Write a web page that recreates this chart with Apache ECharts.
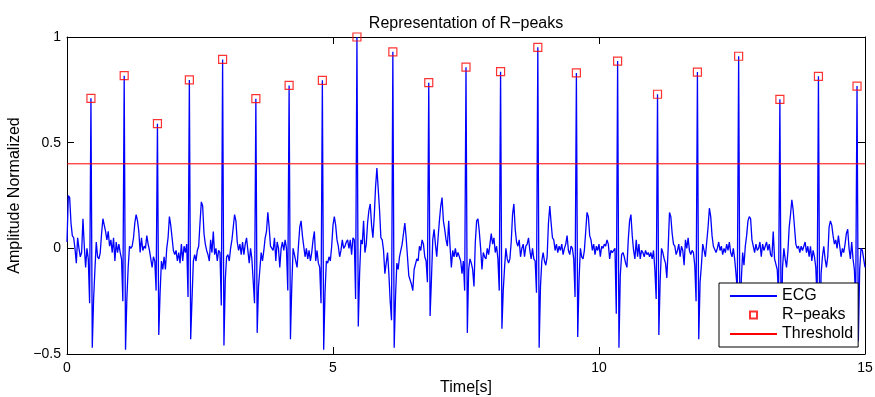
<!DOCTYPE html>
<html>
<head>
<meta charset="utf-8">
<title>Representation of R-peaks</title>
<script src="https://cdn.jsdelivr.net/npm/echarts@6/dist/echarts.min.js"></script>
<style>
  html, body { margin: 0; padding: 0; background: #fff; }
  #chart-container { width: 875px; height: 397px; }
</style>
</head>
<body>
<div id="chart-container"></div>
<script>
// ECG 信号, 每个采样间隔 0.025 s
var sampleStep = 0.025;
var ecgValues = [
  0.03, 0.25, 0.24, 0.12, 0.06, 0.05, 0.0, -0.07, 0.05, 0.0, -0.04, -0.02, 0.14, 0.01, -0.09, 0.0, -0.05, -0.26, 0.71, -0.47, // 0.0 s
  -0.24, -0.1, 0.03, -0.04, -0.05, -0.02, 0.07, 0.14, 0.11, 0.08, 0.04, 0.08, 0.01, 0.04, -0.02, 0.05, -0.06, 0.03, -0.02, 0.02,
  -0.02, -0.05, -0.25, 0.817, -0.48, -0.24, -0.09, 0.01, 0.0, 0.01, 0.05, 0.12, 0.16, 0.13, 0.08, -0.02, 0.05, -0.01, 0.01, 0.0, // 1.0 s
  0.06, 0.02, -0.01, -0.05, -0.09, -0.04, -0.06, -0.2, 0.59, -0.41, -0.21, -0.06, -0.1, -0.04, -0.1, 0.0, 0.05, 0.15, 0.11, 0.05,
  -0.01, -0.03, -0.01, -0.06, -0.02, -0.07, 0.02, -0.06, 0.01, -0.02, 0.02, -0.23, 0.797, -0.43, -0.24, -0.06, -0.03, -0.06, -0.01, 0.01, // 2.0 s
  0.12, 0.22, 0.2, 0.07, 0.02, -0.01, -0.03, -0.06, 0.04, -0.02, 0.08, -0.03, 0.0, -0.06, -0.01, -0.02, -0.27, 0.894, -0.46, -0.15,
  -0.04, -0.03, -0.06, 0.0, 0.04, 0.1, 0.16, 0.13, 0.03, -0.01, 0.02, -0.03, 0.03, -0.03, 0.02, 0.05, -0.01, -0.07, 0.0, -0.05, // 3.0 s
  -0.05, -0.26, 0.708, -0.4, -0.18, -0.1, -0.02, -0.06, -0.01, 0.05, 0.08, 0.17, 0.1, 0.01, 0.01, -0.01, 0.05, -0.06, 0.03, 0.0,
  -0.09, 0.0, 0.03, -0.01, 0.04, 0.0, -0.2, 0.771, -0.43, -0.18, 0.0, -0.03, -0.06, -0.09, 0.01, 0.1, 0.13, 0.06, 0.01, -0.04, // 4.0 s
  0.0, -0.05, -0.01, -0.06, -0.02, 0.04, 0.08, -0.06, -0.01, -0.07, -0.09, -0.26, 0.795, -0.48, -0.21, -0.06, -0.07, -0.04, -0.06, 0.01,
  0.11, 0.15, 0.11, 0.04, 0.01, -0.04, -0.01, 0.04, 0.0, 0.01, 0.03, 0.04, 0.0, 0.04, -0.03, 0.05, 0.04, -0.24, 1.0, -0.37, // 5.0 s
  -0.12, 0.04, 0.02, 0.13, -0.02, 0.02, 0.12, 0.18, 0.21, 0.11, 0.05, 0.15, 0.29, 0.38, 0.28, 0.18, 0.05, 0.04, -0.01, -0.12,
  -0.07, -0.02, -0.12, -0.25, -0.34, 0.93, -0.47, -0.23, -0.07, -0.1, -0.04, -0.01, 0.02, 0.07, 0.12, 0.05, -0.04, -0.13, -0.15, -0.17, // 6.0 s
  -0.2, -0.1, -0.1, -0.05, -0.06, 0.01, -0.01, 0.04, 0.02, -0.04, -0.06, -0.16, 0.784, -0.32, -0.15, 0.04, 0.09, 0.02, -0.04, 0.05,
  0.13, 0.2, 0.24, 0.13, 0.09, 0.04, 0.01, 0.13, 0.01, -0.09, -0.01, -0.04, 0.0, -0.04, -0.02, -0.04, -0.06, -0.12, -0.06, -0.2, // 7.0 s
  0.857, -0.4, -0.1, -0.05, -0.07, -0.1, -0.18, 0.03, 0.13, 0.14, 0.08, 0.0, -0.1, -0.02, -0.04, -0.05, 0.0, -0.03, 0.02, 0.07,
  0.02, 0.05, -0.02, 0.01, -0.05, -0.2, 0.836, -0.38, -0.2, -0.09, 0.0, -0.05, -0.07, -0.05, 0.03, 0.16, 0.21, 0.09, 0.03, 0.01, // 8.0 s
  0.04, -0.04, 0.0, 0.02, -0.04, 0.01, 0.02, 0.05, -0.01, -0.05, 0.0, -0.05, -0.06, -0.21, 0.951, -0.47, -0.18, -0.06, -0.02, -0.06,
  -0.08, -0.04, 0.12, 0.2, 0.12, 0.05, 0.04, -0.01, 0.02, -0.02, 0.01, -0.01, 0.02, -0.03, 0.0, 0.02, 0.06, -0.01, -0.03, 0.01, // 9.0 s
  0.0, -0.05, -0.23, 0.83, -0.42, -0.15, 0.0, -0.04, -0.05, -0.01, 0.08, 0.17, 0.15, 0.06, 0.04, -0.01, 0.02, -0.03, 0.01, -0.01,
  0.02, -0.04, 0.01, 0.0, 0.02, 0.01, 0.04, 0.02, -0.05, -0.01, -0.02, -0.01, 0.0, -0.31, 0.886, -0.47, -0.13, -0.03, -0.02, -0.04, // 10.0 s
  -0.07, -0.09, 0.04, 0.13, 0.16, 0.06, -0.01, -0.05, 0.04, -0.04, 0.02, -0.05, -0.01, -0.02, -0.04, -0.01, -0.03, -0.02, -0.04, -0.02,
  -0.05, -0.01, -0.1, -0.24, 0.729, -0.41, -0.15, 0.0, -0.02, -0.05, -0.07, -0.14, 0.0, 0.17, 0.15, 0.07, 0.02, 0.01, -0.03, -0.01, // 11.0 s
  0.02, -0.04, 0.01, -0.01, -0.08, 0.04, 0.0, 0.05, -0.01, -0.03, -0.01, -0.02, -0.08, -0.25, 0.834, -0.43, -0.16, -0.08, 0.02, -0.01,
  -0.04, 0.03, 0.1, 0.19, 0.15, 0.06, 0.01, 0.01, -0.02, 0.0, 0.03, -0.01, 0.01, -0.03, 0.0, -0.02, 0.02, -0.01, 0.03, -0.02, // 12.0 s
  -0.04, 0.0, -0.05, -0.12, -0.2, 0.909, -0.45, -0.15, -0.02, -0.08, 0.01, 0.06, 0.13, 0.15, 0.14, 0.04, 0.01, -0.02, 0.02, -0.01,
  0.0, 0.03, -0.04, 0.02, -0.01, 0.01, 0.03, -0.01, 0.02, -0.03, -0.04, 0.08, -0.05, -0.05, -0.1, -0.22, 0.705, -0.44, -0.09, 0.0, // 13.0 s
  -0.05, -0.09, -0.02, 0.1, 0.16, 0.23, 0.18, 0.1, 0.02, 0.0, 0.01, -0.02, 0.01, -0.01, 0.01, 0.03, -0.02, 0.01, -0.04, 0.01,
  -0.06, -0.01, -0.04, -0.09, -0.25, 0.814, -0.45, -0.12, -0.04, 0.01, -0.05, -0.09, -0.04, 0.1, 0.13, 0.11, 0.06, 0.02, 0.04, 0.0, // 14.0 s
  0.06, 0.01, -0.04, 0.0, -0.02, 0.02, 0.07, 0.09, 0.0, -0.05, 0.03, -0.05, -0.1, -0.25, 0.768, -0.44, -0.1, 0.0, -0.01, -0.05,
  -0.09 // 15.0 s
];

// 检测到的 R 波峰
var rPeakTimes = [0.45, 1.075, 1.7, 2.3, 2.925, 3.55, 4.175, 4.8, 5.45, 6.125, 6.8,
  7.5, 8.15, 8.85, 9.575, 10.35, 11.1, 11.85, 12.625, 13.4, 14.125, 14.85];
var rPeakValues = [0.71, 0.817, 0.59, 0.797, 0.894, 0.708, 0.771, 0.795, 1.0, 0.93, 0.784,
  0.857, 0.836, 0.951, 0.83, 0.886, 0.729, 0.834, 0.909, 0.705, 0.814, 0.768];

// 阈值
var thresholdLevel = 0.4;

// 坐标轴刻度
var xTicks = [0, 5, 10, 15];
var yTicks = [-0.5, 0, 0.5, 1];
var yTickLabels = ['\u22120.5', '0', '0.5', '1'];

var fontName = '"Liberation Sans", Arial, Helvetica, sans-serif';

var dom = document.getElementById('chart-container');
var myChart = echarts.init(dom, null, { renderer: 'canvas' });

var ecgData = ecgValues.map(function (v, i) { return [i * sampleStep, v]; });
var peakData = rPeakTimes.map(function (t, k) { return [t, rPeakValues[k]]; });
var xMin = xTicks[0], xMax = xTicks[xTicks.length - 1];
var thresholdData = [[xMin, thresholdLevel], [xMax, thresholdLevel]];

function axisBase(extra) {
  var base = {
    type: 'value',
    axisLine: { show: true, onZero: false, lineStyle: { color: '#000', width: 1 } },
    axisTick: { show: true, inside: true, length: 7, lineStyle: { color: '#000', width: 1 } },
    splitLine: { show: false },
    nameTextStyle: { color: '#000', fontSize: 16, fontFamily: fontName }
  };
  return Object.assign(base, extra);
}

// 图例里线条不显示中间的圆点
var hiddenDot = { color: 'rgba(0,0,0,0)', borderWidth: 0, opacity: 0 };

var option = {
  animation: false,
  backgroundColor: '#fff',
  title: {
    text: 'Representation of R\u2212peaks',
    left: 461,
    top: 11,
    textAlign: 'center',
    textStyle: { color: '#000', fontSize: 16, fontWeight: 'normal', fontFamily: fontName }
  },
  grid: {
    left: 67, right: 10, top: 37, bottom: 43,
    containLabel: false,
    outerBoundsMode: 'none'
  },
  legend: {
    orient: 'vertical',
    left: 719,
    top: 283,
    itemWidth: 47,
    itemHeight: 7,
    itemGap: 3,
    padding: [5, 5, 5, 10],
    backgroundColor: '#fff',
    borderColor: '#000',
    borderWidth: 1,
    selectedMode: false,
    textStyle: { color: '#000', fontSize: 16, fontFamily: fontName },
    data: [
      { name: 'ECG', itemStyle: hiddenDot },
      { name: 'R\u2212peaks', icon: 'path://M0,0L10,0L10,10L0,10Z' },
      { name: 'Threshold', itemStyle: hiddenDot }
    ]
  },
  xAxis: [
    axisBase({
      position: 'bottom', min: xMin, max: xMax, interval: 5,
      name: 'Time[s]', nameLocation: 'middle', nameGap: 26,
      axisLabel: { color: '#000', fontSize: 14, margin: 7, fontFamily: fontName }
    }),
    axisBase({
      position: 'top', min: xMin, max: xMax, interval: 5,
      axisLabel: { show: false }
    })
  ],
  yAxis: [
    axisBase({
      position: 'left', min: yTicks[0], max: yTicks[yTicks.length - 1], interval: 0.5,
      name: 'Amplitude Normalized', nameLocation: 'middle', nameGap: 44,
      axisLabel: {
        color: '#000', fontSize: 14, margin: 6, fontFamily: fontName,
        formatter: function (v) {
          var k = yTicks.indexOf(v);
          return k >= 0 ? yTickLabels[k] : '';
        }
      }
    }),
    axisBase({
      position: 'right', min: yTicks[0], max: yTicks[yTicks.length - 1], interval: 0.5,
      axisLabel: { show: false }
    })
  ],
  series: [
    {
      name: 'ECG',
      type: 'line',
      xAxisIndex: 0,
      yAxisIndex: 0,
      data: ecgData,
      symbol: 'none',
      showSymbol: false,
      sampling: null,
      lineStyle: { color: '#0000ff', width: 1.3 },
      itemStyle: { color: '#0000ff' },
      z: 2
    },
    {
      name: 'R\u2212peaks',
      type: 'scatter',
      xAxisIndex: 0,
      yAxisIndex: 0,
      data: peakData,
      symbol: 'rect',
      symbolSize: 8,
      itemStyle: { color: 'rgba(255,255,255,0)', borderColor: '#ff0000', borderWidth: 1.2 },
      z: 3
    },
    {
      name: 'Threshold',
      type: 'line',
      xAxisIndex: 0,
      yAxisIndex: 0,
      data: thresholdData,
      symbol: 'none',
      showSymbol: false,
      lineStyle: { color: '#ff0000', width: 1 },
      itemStyle: { color: '#ff0000' },
      z: 4
    }
  ]
};

myChart.setOption(option);
window.addEventListener('resize', myChart.resize);
</script>
</body>
</html>
